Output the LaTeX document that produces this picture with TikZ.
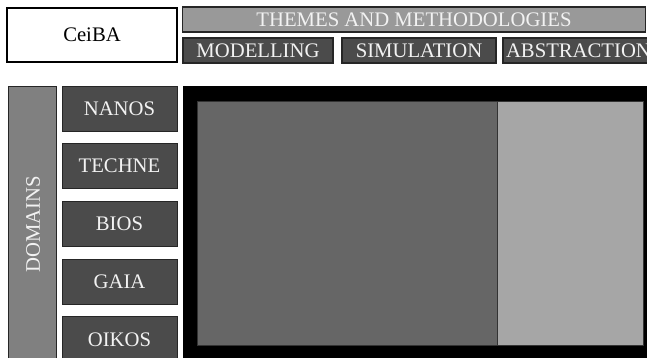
\documentclass[tikz,border=0pt]{standalone}
\usepackage{fontspec}
\setmainfont{Liberation Serif}
\definecolor{darkbox}{HTML}{4B4B4B}
\definecolor{barbox}{HTML}{999999}
\definecolor{dombar}{HTML}{808080}
\definecolor{innerdark}{HTML}{666666}
\definecolor{innerlight}{HTML}{A6A6A6}
\definecolor{txtlight}{HTML}{F2F2F2}
\tikzset{
  base/.style={rectangle, inner sep=0pt, outer sep=0pt, font=\fontsize{20.7}{24}\selectfont},
  whitebox/.style={base, draw=black, line width=1.6pt, fill=white, text=black},
  themebar/.style={base, draw=black!85, line width=1.3pt, fill=barbox, text=txtlight},
  subbox/.style={base, draw=black!85, line width=1.3pt, fill=darkbox, text=txtlight},
  dombox/.style={base, draw=black!85, line width=1pt, fill=darkbox, text=txtlight, minimum width=115pt, minimum height=45pt},
  vbar/.style={base, draw=black!85, line width=1pt, fill=dombar, text=txtlight},
  panel/.style={base, draw=black!80, line width=0.8pt},
}
\begin{document}
\begin{tikzpicture}[x=1pt,y=-1pt]
\useasboundingbox (0,0) rectangle (647,357);
\clip (0,0) rectangle (647,357);
% header
\node[whitebox, minimum width=170pt, minimum height=54pt] (ceiba) at (92,35) {CeiBA};
\node[themebar, minimum width=463pt, minimum height=25pt] (themes) at (414,19.5) {THEMES AND METHODOLOGIES};
\node[subbox, minimum width=150pt, minimum height=25pt] (model) at (258,50.5) {MODELLING};
\node[subbox, minimum width=154pt, minimum height=25pt] (simul) at (419,50.5) {SIMULATION};
\node[subbox, minimum width=150pt, minimum height=25pt, text width=150pt, align=left] (abstr) at (578,50.5) {\hspace*{3pt}ABSTRACTION};
% domains
\node[vbar, minimum width=48pt, minimum height=285pt] (dombar) at (32,228.5) {};
\node[text=txtlight, font=\fontsize{20.7}{24}\selectfont, rotate=90, inner sep=0pt] (domlabel) at (33,224) {DOMAINS};
\node[dombox] (nanos) at (119.5,108.5) {NANOS};
\node[dombox] (techne) at (119.5,166.2) {TECHNE};
\node[dombox] (bios) at (119.5,223.9) {BIOS};
\node[dombox] (gaia) at (119.5,281.6) {GAIA};
\node[dombox] (oikos) at (119.5,339.3) {OIKOS};
% main panel
\node[base, fill=black, minimum width=470pt, minimum height=280pt] (main) at (418,226) {};
\node[panel, fill=innerdark, minimum width=300pt, minimum height=244pt] (left) at (347,223) {};
\node[panel, fill=innerlight, minimum width=146pt, minimum height=244pt] (right) at (570,223) {};
\end{tikzpicture}
\end{document}
